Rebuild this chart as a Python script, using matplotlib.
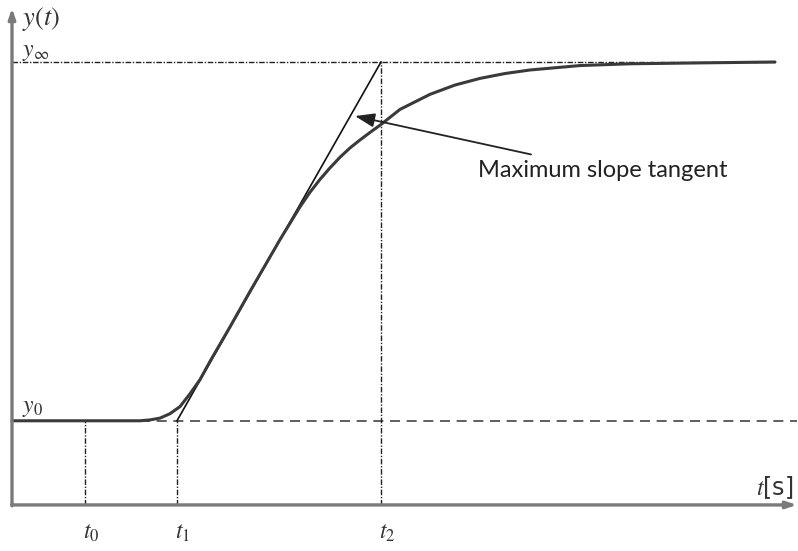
import matplotlib
matplotlib.use("Agg")
import matplotlib.pyplot as plt

plt.rcParams['mathtext.fontset'] = 'stix'

# ---- data (schematic step response) ----
t_curve = [0.00, 1.28, 1.38, 1.48, 1.58, 1.68, 1.78, 1.88, 1.98, 2.08, 2.18, 2.28,
           2.38, 2.48, 2.58, 2.68, 2.78, 2.88, 2.98, 3.08, 3.18, 3.28, 3.38, 3.48,
           3.58, 3.69, 3.88, 4.18, 4.43, 4.68, 4.93, 5.18, 5.43, 5.68, 6.18, 6.88, 7.63]
y_curve = [0.190, 0.190, 0.192, 0.196, 0.206, 0.222, 0.251, 0.283, 0.324, 0.363, 0.402, 0.442,
           0.482, 0.521, 0.560, 0.599, 0.636, 0.673, 0.706, 0.735, 0.761, 0.785, 0.806, 0.824,
           0.841, 0.859, 0.893, 0.927, 0.948, 0.963, 0.974, 0.982, 0.987, 0.992, 0.996, 0.998, 1.000]

t0, t1, t2 = 0.73, 1.65, 3.69
y0, y_inf = 0.19, 1.00
t_end = 7.63
t_axis_end = 7.85
y_axis_end = 1.122

tick_labels = [r'$t_0$', r'$t_1$', r'$t_2$']

fig = plt.figure(figsize=(7.98, 5.51), dpi=100)
ax = fig.add_axes([0, 0, 1, 1])
ax.set_xlim(-0.12, 7.86)
ax.set_ylim(-0.104, 1.140)
ax.axis('off')

dashdot = (0, (4, 1.2, 1, 1.2))

# reference lines
ax.plot([0, t_end], [y_inf, y_inf], color='#222222', lw=1.0, linestyle=dashdot)
ax.plot([1.28, t_axis_end], [y0, y0], color='#444444', lw=1.2, linestyle=(0, (6, 4)))
for tv, ytop in [(t0, y0), (t1, y0), (t2, y_inf)]:
    ax.plot([tv, tv], [0, ytop], color='#222222', lw=1.0, linestyle=dashdot)

# tangent
ax.plot([t1, t2], [y0, y_inf], color='#111111', lw=1.2)

# response curve
ax.plot(t_curve, y_curve, color='#3a3a3a', lw=2.2, solid_capstyle='round')

# axes with arrows
ax.annotate('', xy=(0, y_axis_end), xytext=(0, -0.002),
            arrowprops=dict(arrowstyle='-|>,head_length=0.6,head_width=0.2',
                            color='#7a7a7a', lw=2.4, shrinkA=0, shrinkB=0))
ax.annotate('', xy=(t_axis_end, 0), xytext=(-0.002, 0),
            arrowprops=dict(arrowstyle='-|>,head_length=0.6,head_width=0.2',
                            color='#7a7a7a', lw=2.4, shrinkA=0, shrinkB=0))

# labels
tc = '#333333'
ax.text(0.10, 1.097, r'$y(t)$', fontsize=19, color=tc, va='center', ha='left')
ax.text(0.10, 1.025, r'$y_{\infty}$', fontsize=17, color=tc, va='center', ha='left')
ax.text(0.10, 0.222, r'$y_0$', fontsize=17, color=tc, va='center', ha='left')
for tv, lab in zip([t0, t1, t2], tick_labels):
    ax.text(tv + 0.06, -0.060, lab, fontsize=17, color=tc, va='center', ha='center')
ax.text(7.44, 0.040, r'$t$[s]', fontsize=17, color=tc, va='center', ha='left')

# annotation
ax.annotate('Maximum slope tangent', xy=(3.43, 0.878), xytext=(4.66, 0.756),
            fontsize=17, family='Lato', color='#222222', va='center', ha='left',
            arrowprops=dict(arrowstyle='-|>,head_length=0.7,head_width=0.25',
                            color='#222222', lw=1.3, shrinkA=8, shrinkB=0))

fig.savefig('out.png', dpi=100)
